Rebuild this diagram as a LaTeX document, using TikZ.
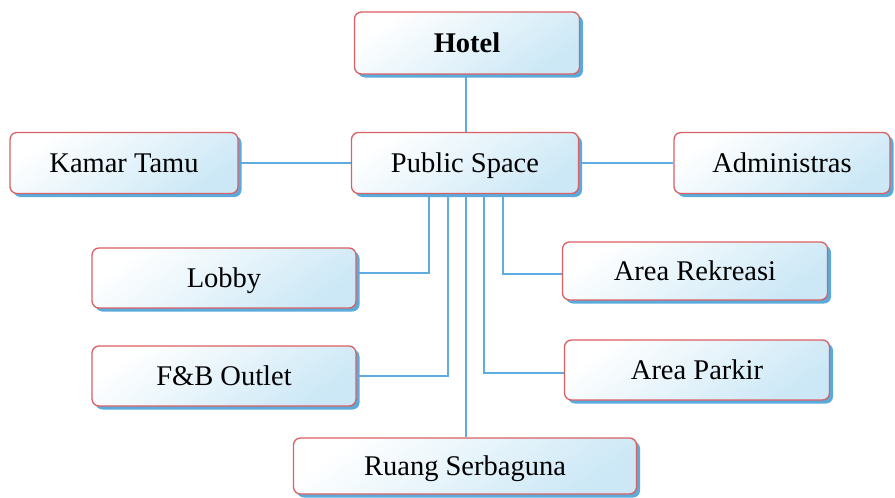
\documentclass[tikz,border=0pt]{standalone}
\usepackage{fontspec}
\setmainfont{Liberation Serif}
\usetikzlibrary{shadows,backgrounds}
\definecolor{bred}{RGB}{218,96,100}
\definecolor{lblue}{RGB}{204,232,246}
\definecolor{sblue}{RGB}{90,170,220}
\definecolor{lineblue}{RGB}{95,172,225}
\tikzset{
  box/.style={draw=bred, line width=1.3pt, rounded corners=7pt,
    top color=white, bottom color=lblue, shading angle=35,
    drop shadow={shadow xshift=3.5pt, shadow yshift=-3.5pt, fill=sblue, opacity=1},
    font=\fontsize{28.5}{32}\selectfont, inner sep=0pt, align=center,
    text height=22pt, text depth=4pt},
  conn/.style={draw=lineblue, line width=1.3pt}
}
\begin{document}
\begin{tikzpicture}[x=1pt,y=-1pt]
\useasboundingbox (0,0) rectangle (895,498);
\node[box, minimum width=225pt, minimum height=62pt, font=\fontsize{28.5}{32}\selectfont\bfseries] (hotel) at (467,43) {Hotel};
\node[box, minimum width=227pt, minimum height=61pt] (ps) at (465,163) {Public Space};
\node[box, minimum width=228pt, minimum height=61pt] (kamar) at (124,163) {Kamar Tamu};
\node[box, minimum width=216pt, minimum height=61pt] (admin) at (782,163) {Administras};
\node[box, minimum width=264pt, minimum height=60pt] (lobby) at (224,278) {Lobby};
\node[box, minimum width=264pt, minimum height=60pt] (fb) at (224,376) {F\&B Outlet};
\node[box, minimum width=265pt, minimum height=58pt] (rek) at (695,271) {Area Rekreasi};
\node[box, minimum width=265pt, minimum height=60pt] (parkir) at (697,370) {Area Parkir};
\node[box, minimum width=343pt, minimum height=56pt] (ruang) at (465,466) {Ruang Serbaguna};
\begin{pgfonlayer}{background}
\draw[conn] ([xshift=1pt]ps.north |- hotel.south) -- ([xshift=1pt]ps.north);
\draw[conn] (kamar.east) -- (ps.west);
\draw[conn] (ps.east) -- (admin.west);
\draw[conn] ([xshift=-36pt]ps.south) |- ([yshift=5pt]lobby.east);
\draw[conn] ([xshift=-17pt]ps.south) |- (fb.east);
\draw[conn] ([xshift=1pt]ps.south) -- ([xshift=1pt]ruang.north);
\draw[conn] ([xshift=19pt]ps.south) |- ([yshift=-3pt]parkir.west);
\draw[conn] ([xshift=38pt]ps.south) |- ([yshift=-3pt]rek.west);
\end{pgfonlayer}
\end{tikzpicture}
\end{document}
